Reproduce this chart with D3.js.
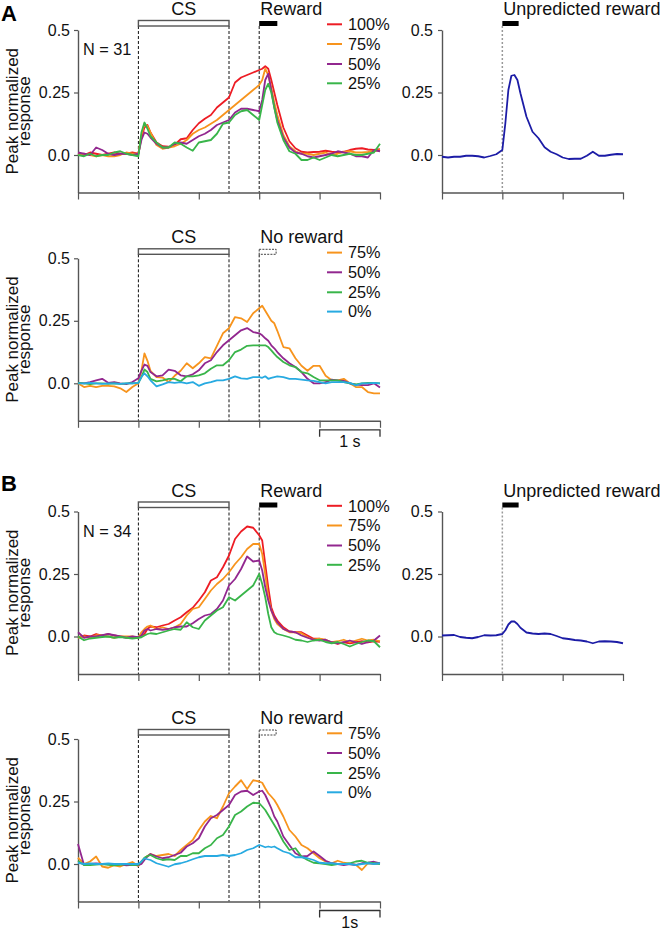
<!DOCTYPE html>
<html>
<head>
<meta charset="utf-8">
<script src="https://cdn.jsdelivr.net/npm/d3@7"></script>
<style>
  html, body { margin: 0; padding: 0; background: #fff; }
  svg { display: block; font-family: "Liberation Sans", Arial, Helvetica, sans-serif; }
</style>
</head>
<body>
<svg id="chart" width="662" height="934"></svg>
<script>
// ---------- data ----------
const timeMain = [-1.0,-0.9,-0.8,-0.7,-0.6,-0.5,-0.4,-0.3,-0.2,-0.1,0.0,0.05,0.1,0.15,0.2,0.3,0.4,0.5,0.6,0.7,0.8,0.9,1.0,1.1,1.2,1.3,1.4,1.5,1.6,1.7,1.8,1.9,2.0,2.05,2.1,2.15,2.2,2.25,2.3,2.4,2.5,2.6,2.7,2.8,2.9,3.0,3.1,3.2,3.3,3.4,3.5,3.6,3.7,3.8,3.9,4.0];
const timeSolo = [-1.0,-0.9,-0.8,-0.7,-0.6,-0.5,-0.4,-0.3,-0.2,-0.1,0.0,0.05,0.1,0.15,0.2,0.25,0.3,0.4,0.5,0.6,0.7,0.8,0.9,1.0,1.1,1.2,1.3,1.4,1.5,1.6,1.7,1.8,1.9,2.0];

const rewardLabels = ["100%","75%","50%","25%"];
const omitLabels = ["75%","50%","25%","0%"];
const yTicks = [0, 0.25, 0.5];
const yTickLabels = ["0.0","0.25","0.5"];
const xTicksMain = [-1,0,1,2,3,4];
const xTicksSolo = [-1,0,1,2];

// Panel A, rewarded trials
const aRew100 = [0.005,0.0,0.01,0.005,0.0,0.005,0.01,0.005,0.005,0.01,0.005, 0.07,0.11,0.12,0.09, 0.05,0.035,0.033,0.04,0.063,0.067,0.1,0.127,0.145,0.16,0.19,0.21,0.23,0.29,0.31,0.32,0.33,0.34, 0.345,0.355,0.345,0.3,0.25,0.2, 0.11,0.055,0.027,0.013,0.01,0.012,0.013,0.017,0.013,0.01,0.013,0.02,0.025,0.027,0.022,0.02,0.023];
const aRew75 = [0.0,0.005,0.0,-0.005,0.0,-0.005,-0.005,0.0,0.01,0.005,0.005, 0.08,0.125,0.115,0.09, 0.04,0.025,0.03,0.035,0.045,0.06,0.085,0.1,0.11,0.125,0.14,0.16,0.18,0.2,0.22,0.24,0.26,0.28, 0.3,0.345,0.32,0.27,0.21,0.16, 0.08,0.035,0.015,0.005,0.005,0.0,0.005,0.01,0.0,0.005,0.012,0.015,0.01,0.01,0.012,0.015,0.02];
const aRew50 = [0.01,0.005,0.0,0.03,0.02,0.005,0.0,0.005,0.005,0.0,0.005, 0.06,0.09,0.085,0.07, 0.045,0.03,0.03,0.045,0.05,0.045,0.06,0.075,0.085,0.1,0.12,0.13,0.14,0.17,0.185,0.185,0.18,0.175, 0.22,0.3,0.325,0.26,0.19,0.14, 0.07,0.03,0.01,0.005,-0.005,-0.01,-0.005,0.0,0.005,0.015,0.01,0.005,-0.005,-0.005,-0.01,0.02,0.015];
const aRew25 = [0.0,-0.005,0.005,-0.005,0.0,0.0,0.01,0.015,0.005,0.0,-0.005, 0.09,0.13,0.105,0.075, 0.05,0.03,0.03,0.05,0.045,0.03,0.017,0.05,0.055,0.06,0.085,0.125,0.13,0.16,0.175,0.18,0.16,0.14, 0.2,0.26,0.285,0.25,0.19,0.13, 0.06,0.015,0.005,-0.02,-0.02,-0.01,-0.02,-0.01,0.0,-0.005,0.0,0.005,0.0,0.0,0.005,0.01,0.045];

// Panel A, omitted-reward trials
const aOmit75 = [0.0,-0.015,-0.01,-0.015,-0.01,-0.01,-0.012,-0.02,-0.035,-0.015,0.0, 0.05,0.12,0.09,0.05, 0.025,0.023,0.005,0.03,0.05,0.08,0.06,0.08,0.105,0.1,0.15,0.2,0.22,0.265,0.26,0.245,0.28,0.3, 0.31,0.29,0.27,0.25,0.24,0.21, 0.145,0.14,0.1,0.07,0.05,0.07,0.07,0.03,0.012,0.012,0.018,0.0,-0.015,-0.015,-0.035,-0.04,-0.04];
const aOmit50 = [0.002,0.0,0.005,0.012,0.018,0.002,0.005,0.0,-0.003,0.005,0.02, 0.05,0.075,0.07,0.045, 0.028,0.032,0.055,0.05,0.032,0.028,0.036,0.052,0.08,0.092,0.125,0.152,0.172,0.192,0.212,0.221,0.205,0.2, 0.192,0.18,0.17,0.152,0.14,0.125, 0.1,0.08,0.065,0.045,0.018,0.0,0.0,0.005,0.015,0.012,0.01,0.0,-0.005,-0.007,-0.007,0.0,-0.017];
const aOmit25 = [0.002,0.0,-0.003,0.0,0.0,-0.002,0.0,-0.002,0.0,0.0,0.002, 0.025,0.055,0.045,0.018, 0.008,0.012,0.018,0.018,0.008,0.028,0.028,0.032,0.04,0.058,0.072,0.072,0.092,0.125,0.135,0.15,0.152,0.152, 0.152,0.152,0.145,0.132,0.118,0.105, 0.085,0.072,0.065,0.045,0.04,0.025,0.012,0.012,0.012,0.012,0.005,0.0,-0.004,0.0,0.002,0.002,0.0];
const aOmit0 = [0.0,0.0,0.002,0.0,-0.002,0.0,0.0,-0.002,0.0,0.0,0.002, 0.025,0.04,0.028,0.012, -0.012,-0.004,0.005,0.002,0.005,0.0,0.005,-0.01,0.0,0.005,0.012,0.012,0.018,0.028,0.02,0.018,0.025,0.025, 0.022,0.028,0.018,0.022,0.025,0.028, 0.025,0.018,0.018,0.015,0.012,0.01,0.005,0.0,0.005,0.005,0.005,0.002,-0.008,0.0,0.0,0.002,0.0];

// Panel B, rewarded trials
const bRew100 = [-0.003,0.004,0.0,0.01,0.004,0.01,0.004,0.0,-0.003,-0.005,-0.003, 0.004,0.01,0.03,0.04, 0.037,0.044,0.05,0.064,0.077,0.097,0.115,0.144,0.177,0.224,0.237,0.277,0.324,0.39,0.42,0.44,0.435,0.405, 0.384,0.29,0.197,0.117,0.084,0.064, 0.037,0.02,0.017,0.017,0.004,-0.009,-0.009,-0.016,-0.023,-0.03,-0.023,-0.027,-0.023,-0.019,-0.023,-0.019,-0.021];
const bRew75 = [-0.005,0.0,-0.005,0.005,0.005,0.0,-0.005,0.0,0.0,0.0,-0.005, 0.017,0.03,0.04,0.044, 0.03,0.037,0.03,0.037,0.05,0.084,0.11,0.117,0.15,0.184,0.21,0.23,0.257,0.29,0.317,0.35,0.37,0.37, 0.33,0.25,0.157,0.104,0.07,0.05, 0.03,0.017,0.017,0.013,-0.003,-0.013,-0.009,-0.013,-0.023,-0.019,-0.013,-0.023,-0.016,-0.009,-0.016,-0.013,-0.019];
const bRew50 = [0.017,-0.005,0.0,0.0,0.005,0.01,0.005,0.0,-0.005,0.0,-0.003, 0.004,0.024,0.03,0.024, 0.03,0.027,0.03,0.037,0.04,0.04,0.053,0.07,0.084,0.09,0.11,0.144,0.204,0.23,0.27,0.32,0.3,0.304, 0.264,0.197,0.144,0.104,0.077,0.057, 0.03,0.02,0.017,0.004,-0.005,-0.013,-0.016,-0.013,-0.023,-0.027,-0.023,-0.016,-0.023,-0.03,-0.023,-0.016,0.004];
const bRew25 = [0.0,-0.015,-0.008,-0.005,-0.002,0.0,-0.005,-0.002,-0.005,-0.008,-0.005, -0.003,0.004,0.01,0.013, 0.01,0.017,0.024,0.03,0.027,0.057,0.037,0.03,0.064,0.084,0.104,0.117,0.157,0.144,0.164,0.184,0.204,0.25, 0.21,0.157,0.09,0.037,0.017,0.01, 0.004,-0.003,-0.013,-0.016,-0.022,-0.016,-0.013,-0.022,-0.027,-0.022,-0.03,-0.04,-0.03,-0.022,-0.016,-0.019,-0.043];

// Panel B, omitted-reward trials
const bOmit75 = [0.025,0.0,0.01,0.03,-0.01,-0.015,-0.005,-0.01,0.0,0.008,-0.008, 0.01,0.023,0.032,0.04, 0.032,0.036,0.04,0.032,0.056,0.076,0.096,0.136,0.17,0.192,0.183,0.23,0.283,0.31,0.335,0.3,0.335,0.33, 0.325,0.303,0.283,0.27,0.256,0.236, 0.19,0.136,0.11,0.076,0.063,0.043,0.023,0.01,0.003,0.013,0.005,0.0,-0.003,-0.024,0.003,0.0,0.003];
const bOmit50 = [0.08,-0.004,0.0,0.002,0.0,0.0,-0.003,0.0,-0.005,-0.003,-0.005, 0.0,0.016,0.03,0.04, 0.03,0.023,0.027,0.036,0.045,0.07,0.083,0.103,0.15,0.183,0.196,0.216,0.236,0.276,0.29,0.293,0.276,0.29, 0.293,0.276,0.25,0.223,0.19,0.17, 0.11,0.076,0.043,0.03,0.032,0.05,0.032,0.013,0.003,0.0,-0.004,0.0,-0.004,0.003,0.005,0.009,0.003];
const bOmit25 = [0.012,-0.004,-0.004,-0.002,0.0,-0.003,-0.005,-0.003,0.0,-0.004,-0.003, 0.01,0.025,0.032,0.036, 0.023,0.016,0.019,0.016,0.032,0.032,0.043,0.043,0.063,0.076,0.103,0.116,0.15,0.196,0.21,0.23,0.245,0.243, 0.23,0.216,0.196,0.176,0.156,0.136, 0.09,0.056,0.063,0.03,0.016,0.005,0.003,0.0,-0.004,0.0,0.0,0.003,0.01,0.013,0.005,0.003,0.0];
const bOmit0 = [0.005,0.0,0.002,0.0,0.0,0.002,0.0,0.0,0.0,0.0,0.0, 0.01,0.023,0.019,0.016, 0.003,-0.004,-0.011,-0.001,0.003,0.01,0.019,0.027,0.032,0.032,0.032,0.036,0.032,0.036,0.043,0.056,0.063,0.076, 0.072,0.067,0.07,0.067,0.07,0.063, 0.05,0.043,0.027,0.027,0.023,0.016,0.005,0.003,0.003,0.0,0.0,0.0,-0.004,0.0,0.003,0.0,0.003];

// Unpredicted reward
const aSolo = [-0.007,-0.01,-0.007,-0.007,-0.003,-0.003,-0.005,-0.01,-0.004,0.003,0.02, 0.127,0.26,0.317,0.32,0.3,0.247, 0.153,0.093,0.067,0.031,0.013,0.003,-0.01,-0.016,-0.015,-0.015,-0.003,0.013,-0.003,-0.003,0.001,0.004,0.003];
const bSolo = [0.004,0.005,0.006,-0.002,-0.005,-0.007,-0.002,0.005,0.004,0.005,0.01, 0.025,0.048,0.06,0.06,0.05,0.035, 0.016,0.012,0.01,0.012,0.01,0.002,-0.007,-0.01,-0.014,-0.016,-0.02,-0.027,-0.02,-0.019,-0.02,-0.022,-0.027];

const colRew = ["#ed1c24","#f7941d","#92278f","#39b54a"];
const colOmit = ["#f7941d","#92278f","#39b54a","#27aae1"];
const colSolo = "#1c1ca6";

// ---------- drawing ----------
const svg = d3.select("#chart");
const AX = "#555";
const FONT = '"Liberation Sans", Arial, Helvetica, sans-serif';

const xMain = d3.scaleLinear().domain([-1, 4]).range([78, 380]);
const xSolo = d3.scaleLinear().domain([-1, 2]).range([442, 623]);
const yFor = top => d3.scaleLinear().domain([-0.15, 0.5]).range([top + 162.5, top]);

function drawAxes(g, x, y, xTicks, axisX, labelEnd) {
  const yAx = d3.axisLeft(y).tickValues(yTicks).tickFormat((d, i) => yTickLabels[i]).tickSize(4).tickSizeOuter(0);
  const gy = g.append("g").attr("transform", `translate(${axisX},0)`).call(yAx);
  gy.select(".domain").attr("stroke", AX).attr("stroke-width", 1.4);
  gy.selectAll(".tick line").attr("stroke", AX).attr("stroke-width", 1.2);
  gy.selectAll(".tick text").attr("font-size", 16).attr("font-family", FONT).attr("fill", "#111").attr("x", -labelEnd);
  const xAx = d3.axisBottom(x).tickValues(xTicks).tickFormat("").tickSize(7).tickSizeOuter(0);
  const gx = g.append("g").attr("transform", `translate(0,${y(-0.15)})`).call(xAx);
  gx.select(".domain").attr("stroke", AX).attr("stroke-width", 1.4);
  gx.selectAll(".tick line").attr("stroke", AX).attr("stroke-width", 1.2);
}

function drawLines(g, x, y, times, series, colors) {
  const line = d3.line().x((d, i) => x(times[i])).y(d => y(d));
  series.forEach((s, k) => {
    g.append("path").datum(s).attr("d", line)
      .attr("fill", "none").attr("stroke", colors[k]).attr("stroke-width", 1.8)
      .attr("stroke-linejoin", "round");
  });
}

function drawLegend(g, labels, colors, top) {
  const rowY = [top - 5.7, top + 14, top + 34, top + 53.3];
  labels.forEach((lab, i) => {
    g.append("line").attr("x1", 327).attr("x2", 342).attr("y1", rowY[i]).attr("y2", rowY[i])
      .attr("stroke", colors[i]).attr("stroke-width", 2);
    g.append("text").attr("x", 348).attr("y", rowY[i]).attr("dy", "0.36em")
      .attr("font-size", 16.3).attr("font-family", FONT).attr("fill", "#111").text(lab);
  });
}

function drawYTitle(g, y) {
  const cy = (y(0.5) + y(-0.15)) / 2;
  const t = g.append("g").attr("transform", `translate(0,${cy}) rotate(-90)`);
  t.append("text").attr("x", 0).attr("y", 18).attr("text-anchor", "middle")
    .attr("font-size", 17).attr("font-family", FONT).attr("fill", "#111").text("Peak normalized");
  t.append("text").attr("x", 0).attr("y", 29.5).attr("text-anchor", "middle")
    .attr("font-size", 17).attr("font-family", FONT).attr("fill", "#111").text("response");
}

function drawMainPanel(top, series, colors, labels, rewarded, nLabel, scaleText) {
  const g = svg.append("g");
  const y = yFor(top);
  const x = xMain;
  const barTop = top - 9.5, barBot = top - 4;
  // dashed event lines
  [0, 1.5, 2].forEach(t => {
    g.append("line").attr("x1", x(t)).attr("x2", x(t)).attr("y1", barBot).attr("y2", y(-0.15))
      .attr("stroke", "#111").attr("stroke-width", 1).attr("stroke-dasharray", "3,2");
  });
  // CS bar
  g.append("rect").attr("x", x(0)).attr("y", barTop).attr("width", x(1.5) - x(0)).attr("height", barBot - barTop)
    .attr("fill", "#fff").attr("stroke", "#555").attr("stroke-width", 1.4);
  g.append("text").attr("x", x(0.75)).attr("y", top - 15).attr("text-anchor", "middle")
    .attr("font-size", 18).attr("font-family", FONT).attr("fill", "#111").text("CS");
  // reward marker
  if (rewarded) {
    g.append("rect").attr("x", x(2)).attr("y", barTop + 0.5).attr("width", x(2.3) - x(2)).attr("height", barBot - barTop - 0.5)
      .attr("fill", "#000");
    g.append("text").attr("x", x(2) + 1).attr("y", top - 15)
      .attr("font-size", 18).attr("font-family", FONT).attr("fill", "#111").text("Reward");
  } else {
    g.append("rect").attr("x", x(2)).attr("y", barTop + 0.5).attr("width", x(2.28) - x(2)).attr("height", barBot - barTop - 0.5)
      .attr("fill", "#fff").attr("stroke", "#111").attr("stroke-width", 0.8).attr("stroke-dasharray", "2,1.2");
    g.append("text").attr("x", x(2) + 1).attr("y", top - 15)
      .attr("font-size", 18).attr("font-family", FONT).attr("fill", "#111").text("No reward");
  }
  drawAxes(g, x, y, xTicksMain, 78, 8);
  drawLines(g, x, y, timeMain, series, colors);
  drawLegend(g, labels, colors, top);
  drawYTitle(g, y);
  if (nLabel) {
    g.append("text").attr("x", 83).attr("y", top + 25).attr("font-size", 16.3)
      .attr("font-family", FONT).attr("fill", "#111").text(nLabel);
  }
  if (scaleText) {
    const sy = y(-0.15) + 9;
    const x0 = x(3), x1 = x(4);
    g.append("path").attr("d", `M${x0},${sy + 7}V${sy}H${x1}V${sy + 7}`)
      .attr("fill", "none").attr("stroke", "#333").attr("stroke-width", 1.3);
    g.append("text").attr("x", (x0 + x1) / 2).attr("y", sy + 17).attr("text-anchor", "middle")
      .attr("font-size", 16).attr("font-family", FONT).attr("fill", "#111").text(scaleText);
  }
}

function drawSoloPanel(top, data) {
  const g = svg.append("g");
  const y = yFor(top);
  const x = xSolo;
  const barTop = top - 9.5, barBot = top - 4;
  g.append("line").attr("x1", x(0)).attr("x2", x(0)).attr("y1", barBot).attr("y2", y(-0.15))
    .attr("stroke", "#999").attr("stroke-width", 1.5).attr("stroke-dasharray", "2,2");
  g.append("rect").attr("x", x(0)).attr("y", barTop + 0.5).attr("width", x(0.27) - x(0)).attr("height", barBot - barTop - 0.5)
    .attr("fill", "#000");
  g.append("text").attr("x", x(0) + 1).attr("y", top - 15)
    .attr("font-size", 18).attr("font-family", FONT).attr("fill", "#111").text("Unpredicted reward");
  drawAxes(g, x, y, xTicksSolo, 442, 9);
  drawLines(g, x, y, timeSolo, [data], [colSolo]);
}

// Panel letters
svg.append("text").attr("x", 1).attr("y", 21).attr("font-size", 22).attr("font-weight", "bold")
  .attr("font-family", FONT).attr("fill", "#000").text("A");
svg.append("text").attr("x", 1).attr("y", 491).attr("font-size", 22).attr("font-weight", "bold")
  .attr("font-family", FONT).attr("fill", "#000").text("B");

drawMainPanel(30, [aRew100, aRew75, aRew50, aRew25], colRew, rewardLabels, true, "N = 31", null);
drawSoloPanel(30, aSolo);
drawMainPanel(258.3, [aOmit75, aOmit50, aOmit25, aOmit0], colOmit, omitLabels, false, null, "1 s");
drawMainPanel(511.5, [bRew100, bRew75, bRew50, bRew25], colRew, rewardLabels, true, "N = 34", null);
drawSoloPanel(511.5, bSolo);
drawMainPanel(739, [bOmit75, bOmit50, bOmit25, bOmit0], colOmit, omitLabels, false, null, "1s");
</script>
</body>
</html>
